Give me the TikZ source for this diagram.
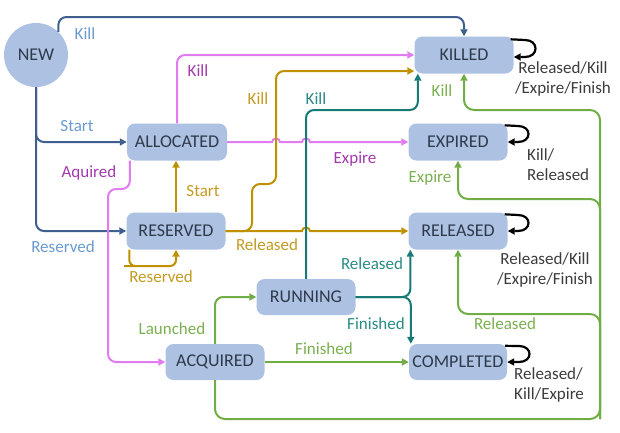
\documentclass[tikz,border=0pt]{standalone}
\usepackage{fontspec}
\setmainfont{Carlito}
\usetikzlibrary{arrows.meta,calc}
\definecolor{nodefill}{HTML}{ADC2E3}
\definecolor{nodetext}{HTML}{2E3A4A}
\definecolor{dblue}{HTML}{3F5F8F}
\definecolor{lblue}{HTML}{6A9AD0}
\definecolor{pinkl}{HTML}{E07CF0}
\definecolor{magl}{HTML}{A23AAE}
\definecolor{gold}{HTML}{BF9000}
\definecolor{goldt}{HTML}{C39A22}
\definecolor{teal}{HTML}{187A77}
\definecolor{tealt}{HTML}{2A8A84}
\definecolor{grn}{HTML}{70AD47}
\definecolor{grnt}{HTML}{7AB050}
\definecolor{loopt}{HTML}{3C3C3C}
\begin{document}
\begin{tikzpicture}[x=1pt,y=-1pt,
  state/.style={fill=nodefill,rounded corners=8pt,minimum width=99pt,minimum height=37pt,inner sep=0pt,text=nodetext,font=\fontsize{18}{20}\selectfont},
  lbl/.style={inner sep=0pt,text height=11pt,text depth=0pt,font=\fontsize{17}{20}\selectfont},
  mlbl/.style={inner sep=0pt,font=\fontsize{17}{20}\selectfont,text=loopt},
  arr/.style={-{Triangle[length=7pt,width=7pt]}},
  ln/.style={line width=2pt,rounded corners=8pt,arr},
  loopl/.style={line width=2.2pt,black,arr}
]
\useasboundingbox (0,0) rectangle (620,432);

% nodes
\node[circle,fill=nodefill,minimum size=64pt,inner sep=0pt,text=nodetext,font=\fontsize{18}{20}\selectfont] (new) at (36,55) {NEW};
\node[state,minimum width=100pt] (alloc) at (177,142) {ALLOCATED};
\node[state] (resv) at (176,231) {RESERVED};
\node[state,minimum height=36pt] (acq) at (215,362) {ACQUIRED};
\node[state,minimum height=36pt] (run) at (306,297) {RUNNING};
\node[state] (killed) at (464,55) {KILLED};
\node[state] (expired) at (458,142) {EXPIRED};
\node[state] (released) at (458,231) {RELEASED};
\node[state,minimum width=98pt,minimum height=36pt] (completed) at (458,362) {COMPLETED};

\coordinate (top) at (0,17);
\coordinate (pj) at (108,189);
\coordinate (rl) at (130,266);
\coordinate (tk) at (380,110);
\coordinate (gb) at (600,419);
\coordinate (gtop) at (600,110);
\coordinate (ge) at (600,199);
\coordinate (gr) at (600,314);

% NEW (dark blue)
\draw[ln,dblue] (new.46) -- (new.46 |- top) -- (killed.north |- top) -- (killed.north);
\draw[ln,dblue] (new.south) |- (alloc.west);
\draw[ln,dblue] (new.south) |- (resv.west);

% ALLOCATED (pink)
\draw[ln,pinkl] (alloc.north) |- (killed.west);
\draw[ln,pinkl,sharp corners] (alloc.east) -- (272,142) .. controls (272,137.5) and (280,137.5) .. (280,142)
  -- (302,142) .. controls (302,137.5) and (310,137.5) .. (310,142) -- (expired.west);
\draw[ln,pinkl] ([xshift=3pt]alloc.south west) |- (pj) |- (acq.west);

% RESERVED (gold)
\draw[ln,gold] (resv.north) -- (resv.north |- alloc.south);
\draw[ln,gold,rounded corners=6pt] ([xshift=3pt]resv.south west) |- (rl) -| (resv.south);
\draw[ln,gold,sharp corners] (resv.east) -- (302,231) .. controls (302,226.5) and (310,226.5) .. (310,231) -- (released.west);
\draw[ln,gold] (resv.east) -- (252,231) -- (252,184) -- (276,184) -- (276,71) -- ([yshift=-16pt]killed.west);

% RUNNING (teal)
\draw[ln,teal] (run.north) |- (tk) -| ([xshift=3.5pt]killed.south west);
\draw[ln,teal] (run.east) -| ([xshift=2pt]released.south west);
\draw[ln,teal] (run.east) -| ([xshift=2pt]completed.north west);

% ACQUIRED (green)
\draw[ln,grn] (acq.north) |- (run.west);
\draw[ln,grn] (acq.east) -- (completed.west);
\draw[ln,grn,rounded corners=10pt] (acq.south) |- (gb) -- (gtop) -| (killed.south);
\draw[ln,grn,rounded corners=10pt] (gb) -- (ge) -| (expired.south);
\draw[ln,grn,rounded corners=10pt] (gb) -- (gr) -| (released.south);

% self loops
\draw[loopl] ([xshift=-3pt,yshift=-3pt]killed.north east) -- (525,40) .. controls (539,40) and (539,57) .. (525,57) -- (killed.east |- 0,57);
\draw[loopl] ([xshift=-3pt,yshift=-2pt]expired.north east) -- (518,126) .. controls (532,126) and (532,142) .. (518,142) -- (expired.east);
\draw[loopl] ([xshift=-3pt,yshift=-2pt]released.north east) -- (518,215) .. controls (532,215) and (532,231) .. (518,231) -- (released.east);
\draw[loopl] ([xshift=-2pt,yshift=-2pt]completed.north east) -- (519,346) .. controls (533,346) and (533,362) .. (519,362) -- (completed.east);

% labels
\node[lbl,text=lblue] (l1) at (85,34) {Kill};
\node[lbl,text=lblue] (l2) at (77,126) {Start};
\node[lbl,text=lblue] (l3) at (63,247) {Reserved};
\node[lbl,text=magl] (l4) at (198,71) {Kill};
\node[lbl,text=magl] (l5) at (355,158) {Expire};
\node[lbl,text=magl] (l6) at (89,172) {Aquired};
\node[lbl,text=goldt] (l7) at (203,191) {Start};
\node[lbl,text=goldt] (l8) at (161,277) {Reserved};
\node[lbl,text=goldt] (l9) at (258,99) {Kill};
\node[lbl,text=goldt] (l10) at (267,245) {Released};
\node[lbl,text=tealt] (l11) at (316,99) {Kill};
\node[lbl,text=tealt] (l12) at (372,264) {Released};
\node[lbl,text=tealt] (l13) at (376,324) {Finished};
\node[lbl,text=grnt] (l14) at (172,329) {Launched};
\node[lbl,text=grnt] (l15) at (324,349) {Finished};
\node[lbl,text=grnt] (l16) at (442,91) {Kill};
\node[lbl,text=grnt] (l17) at (430,177) {Expire};
\node[lbl,text=grnt] (l18) at (505,324) {Released};

\node[mlbl,align=center,anchor=north] (m1) at (563,61) {Released/Kill\\/Expire/Finish};
\node[mlbl,align=left,anchor=north west] (m2) at (527,148) {Kill/\\Released};
\node[mlbl,align=center,anchor=north] (m3) at (545,252) {Released/Kill\\/Expire/Finish};
\node[mlbl,align=left,anchor=north west] (m4) at (514,367) {Released/\\Kill/Expire};
\end{tikzpicture}
\end{document}
